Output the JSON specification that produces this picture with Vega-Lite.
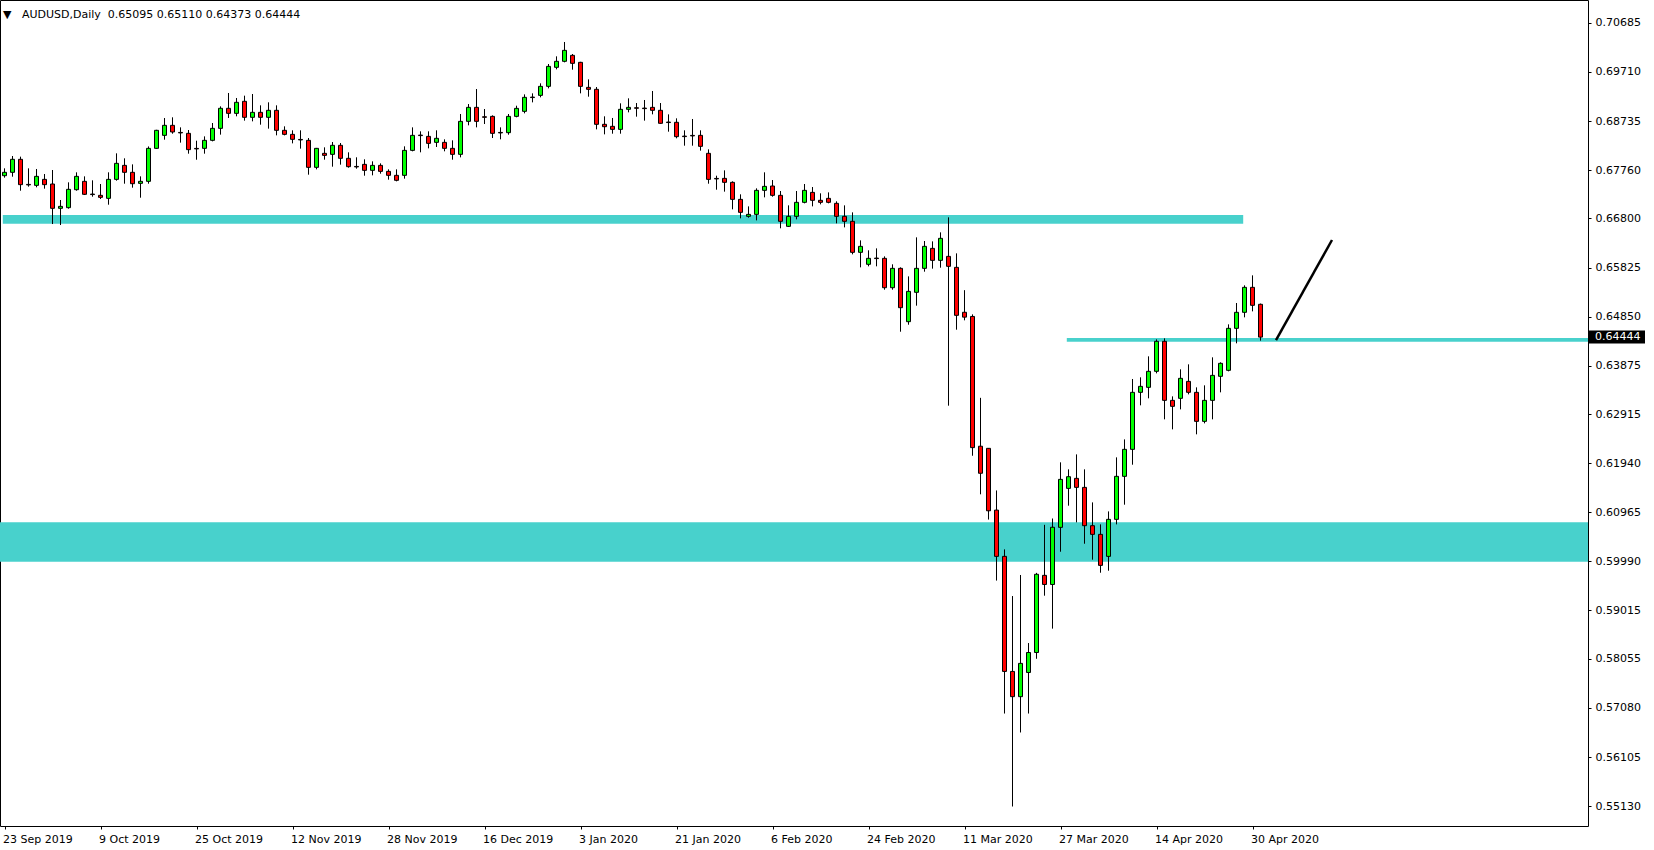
{
"$schema": "https://vega.github.io/schema/vega-lite/v6.json",
"width": 1588,
"height": 826,
"autosize": {"type": "none"},
"padding": {"left": 0, "top": 0, "right": 66, "bottom": 24},
"background": "#ffffff",
"config": {
  "view": {"stroke": "#000000", "strokeWidth": 1},
  "font": "DejaVu Sans",
  "axis": {"domain": false, "grid": false, "labelFont": "DejaVu Sans", "labelFontSize": 11, "labelColor": "#000000", "tickColor": "#000000", "tickSize": 3, "title": null}
},
"title": {"text": "▼\u00a0\u00a0\u00a0AUDUSD,Daily\u00a0\u00a00.65095 0.65110 0.64373 0.64444", "anchor": "start", "frame": "group", "orient": "top", "offset": -16, "dx": 3, "dy": 13, "baseline": "alphabetic", "font": "DejaVu Sans", "fontSize": 11, "fontWeight": "normal", "color": "#000000"},
"resolve": {"axis": {"x": "independent", "y": "independent"}},
"datasets": {
"candles": [
{"d":"2019-09-23","o":0.67649,"h":0.67795,"l":0.6761,"c":0.67716},
{"d":"2019-09-24","o":0.67716,"h":0.6804,"l":0.67629,"c":0.67974},
{"d":"2019-09-25","o":0.67974,"h":0.68027,"l":0.67351,"c":0.67471},
{"d":"2019-09-26","o":0.67476,"h":0.67795,"l":0.67431,"c":0.67466},
{"d":"2019-09-27","o":0.67457,"h":0.67782,"l":0.67418,"c":0.67636},
{"d":"2019-09-30","o":0.67576,"h":0.67682,"l":0.67391,"c":0.67471},
{"d":"2019-10-01","o":0.67484,"h":0.67762,"l":0.66689,"c":0.67001},
{"d":"2019-10-02","o":0.67001,"h":0.67166,"l":0.66669,"c":0.6704},
{"d":"2019-10-03","o":0.67014,"h":0.67517,"l":0.66994,"c":0.67378},
{"d":"2019-10-04","o":0.67371,"h":0.67716,"l":0.67351,"c":0.67636},
{"d":"2019-10-07","o":0.67537,"h":0.67636,"l":0.67265,"c":0.67279},
{"d":"2019-10-08","o":0.67284,"h":0.67557,"l":0.67232,"c":0.67274},
{"d":"2019-10-09","o":0.67259,"h":0.67484,"l":0.67186,"c":0.67219},
{"d":"2019-10-10","o":0.67199,"h":0.67716,"l":0.67073,"c":0.67576},
{"d":"2019-10-11","o":0.67576,"h":0.68093,"l":0.6755,"c":0.67894},
{"d":"2019-10-14","o":0.67854,"h":0.67994,"l":0.6749,"c":0.67716},
{"d":"2019-10-15","o":0.67716,"h":0.67874,"l":0.67411,"c":0.6749},
{"d":"2019-10-16","o":0.67497,"h":0.67636,"l":0.67212,"c":0.67537},
{"d":"2019-10-17","o":0.67537,"h":0.6823,"l":0.6749,"c":0.68192},
{"d":"2019-10-18","o":0.68192,"h":0.6856,"l":0.6818,"c":0.6855},
{"d":"2019-10-21","o":0.6845,"h":0.68794,"l":0.68364,"c":0.68649},
{"d":"2019-10-22","o":0.68649,"h":0.68808,"l":0.68483,"c":0.68517},
{"d":"2019-10-23","o":0.68508,"h":0.68609,"l":0.68305,"c":0.68498},
{"d":"2019-10-24","o":0.6849,"h":0.68556,"l":0.68086,"c":0.68166},
{"d":"2019-10-25","o":0.68191,"h":0.68344,"l":0.67966,"c":0.68181},
{"d":"2019-10-28","o":0.68192,"h":0.6843,"l":0.68086,"c":0.68351},
{"d":"2019-10-29","o":0.68351,"h":0.68695,"l":0.68331,"c":0.68589},
{"d":"2019-10-30","o":0.68589,"h":0.69026,"l":0.68464,"c":0.68987},
{"d":"2019-10-31","o":0.68987,"h":0.69291,"l":0.68795,"c":0.68887},
{"d":"2019-11-01","o":0.68887,"h":0.69192,"l":0.68828,"c":0.69106},
{"d":"2019-11-04","o":0.69126,"h":0.69238,"l":0.68742,"c":0.68808},
{"d":"2019-11-05","o":0.68808,"h":0.69271,"l":0.68728,"c":0.68907},
{"d":"2019-11-06","o":0.68907,"h":0.69046,"l":0.68662,"c":0.68808},
{"d":"2019-11-07","o":0.68808,"h":0.69106,"l":0.68583,"c":0.68947},
{"d":"2019-11-08","o":0.68947,"h":0.69046,"l":0.6845,"c":0.6855},
{"d":"2019-11-11","o":0.6855,"h":0.68629,"l":0.6845,"c":0.6847},
{"d":"2019-11-12","o":0.6847,"h":0.6855,"l":0.68291,"c":0.68371},
{"d":"2019-11-13","o":0.68369,"h":0.6855,"l":0.68186,"c":0.68359},
{"d":"2019-11-14","o":0.68351,"h":0.68397,"l":0.67669,"c":0.67815},
{"d":"2019-11-15","o":0.67815,"h":0.682,"l":0.67775,"c":0.68192},
{"d":"2019-11-18","o":0.68093,"h":0.68212,"l":0.67967,"c":0.68053},
{"d":"2019-11-19","o":0.68073,"h":0.68318,"l":0.67828,"c":0.68252},
{"d":"2019-11-20","o":0.68252,"h":0.68298,"l":0.67868,"c":0.67994},
{"d":"2019-11-21","o":0.67994,"h":0.68113,"l":0.67808,"c":0.67828},
{"d":"2019-11-22","o":0.67833,"h":0.68014,"l":0.67788,"c":0.67823},
{"d":"2019-11-25","o":0.67874,"h":0.67974,"l":0.67649,"c":0.67755},
{"d":"2019-11-26","o":0.67755,"h":0.67934,"l":0.67656,"c":0.67854},
{"d":"2019-11-27","o":0.67854,"h":0.67894,"l":0.67689,"c":0.67735},
{"d":"2019-11-28","o":0.67735,"h":0.67775,"l":0.6757,"c":0.67656},
{"d":"2019-11-29","o":0.67656,"h":0.67775,"l":0.67537,"c":0.67557},
{"d":"2019-12-02","o":0.67656,"h":0.68232,"l":0.6759,"c":0.68152},
{"d":"2019-12-03","o":0.68152,"h":0.68609,"l":0.68133,"c":0.6845},
{"d":"2019-12-04","o":0.68455,"h":0.6853,"l":0.68113,"c":0.68445},
{"d":"2019-12-05","o":0.6843,"h":0.6853,"l":0.68192,"c":0.68291},
{"d":"2019-12-06","o":0.68311,"h":0.6855,"l":0.68219,"c":0.68391},
{"d":"2019-12-09","o":0.68311,"h":0.68371,"l":0.68133,"c":0.68192},
{"d":"2019-12-10","o":0.68192,"h":0.68351,"l":0.67967,"c":0.68073},
{"d":"2019-12-11","o":0.68073,"h":0.68874,"l":0.68013,"c":0.68728},
{"d":"2019-12-12","o":0.68728,"h":0.69072,"l":0.68649,"c":0.69006},
{"d":"2019-12-13","o":0.69006,"h":0.6937,"l":0.68609,"c":0.68728},
{"d":"2019-12-16","o":0.68819,"h":0.68973,"l":0.68675,"c":0.68809},
{"d":"2019-12-17","o":0.68827,"h":0.68847,"l":0.68397,"c":0.6849},
{"d":"2019-12-18","o":0.68508,"h":0.68609,"l":0.68371,"c":0.68498},
{"d":"2019-12-19","o":0.68503,"h":0.68874,"l":0.68463,"c":0.68827},
{"d":"2019-12-20","o":0.68827,"h":0.69039,"l":0.68808,"c":0.68986},
{"d":"2019-12-23","o":0.68927,"h":0.69264,"l":0.68887,"c":0.69205},
{"d":"2019-12-24","o":0.6921,"h":0.69284,"l":0.69105,"c":0.692},
{"d":"2019-12-26","o":0.69244,"h":0.69483,"l":0.69205,"c":0.69423},
{"d":"2019-12-27","o":0.69423,"h":0.69867,"l":0.69383,"c":0.6982},
{"d":"2019-12-30","o":0.69801,"h":0.70019,"l":0.69761,"c":0.6992},
{"d":"2019-12-31","o":0.6992,"h":0.70304,"l":0.699,"c":0.70138},
{"d":"2020-01-02","o":0.70039,"h":0.70065,"l":0.69754,"c":0.6988},
{"d":"2020-01-03","o":0.699,"h":0.6991,"l":0.69284,"c":0.69423},
{"d":"2020-01-06","o":0.69403,"h":0.69562,"l":0.69218,"c":0.69364},
{"d":"2020-01-07","o":0.69364,"h":0.6941,"l":0.68569,"c":0.68669},
{"d":"2020-01-08","o":0.68669,"h":0.68828,"l":0.6847,"c":0.68622},
{"d":"2020-01-09","o":0.68629,"h":0.68795,"l":0.68483,"c":0.68569},
{"d":"2020-01-10","o":0.68569,"h":0.69086,"l":0.68483,"c":0.68967},
{"d":"2020-01-13","o":0.68967,"h":0.69185,"l":0.68907,"c":0.69006},
{"d":"2020-01-14","o":0.68998,"h":0.69092,"l":0.68821,"c":0.68988},
{"d":"2020-01-15","o":0.68991,"h":0.69152,"l":0.68742,"c":0.68981},
{"d":"2020-01-16","o":0.69006,"h":0.69331,"l":0.68867,"c":0.68947},
{"d":"2020-01-17","o":0.68947,"h":0.69092,"l":0.6868,"c":0.68689},
{"d":"2020-01-20","o":0.68714,"h":0.68867,"l":0.68523,"c":0.68704},
{"d":"2020-01-21","o":0.68709,"h":0.68788,"l":0.68391,"c":0.68424},
{"d":"2020-01-22","o":0.68435,"h":0.6855,"l":0.68245,"c":0.68425},
{"d":"2020-01-23","o":0.68449,"h":0.68775,"l":0.68245,"c":0.68439},
{"d":"2020-01-24","o":0.6845,"h":0.6855,"l":0.68146,"c":0.68232},
{"d":"2020-01-27","o":0.68093,"h":0.68172,"l":0.6749,"c":0.67576},
{"d":"2020-01-28","o":0.67595,"h":0.67649,"l":0.67371,"c":0.67585},
{"d":"2020-01-29","o":0.67596,"h":0.67755,"l":0.67332,"c":0.67517},
{"d":"2020-01-30","o":0.67517,"h":0.67537,"l":0.66981,"c":0.67179},
{"d":"2020-01-31","o":0.67179,"h":0.67279,"l":0.66802,"c":0.66921},
{"d":"2020-02-03","o":0.66842,"h":0.6704,"l":0.66815,"c":0.66881},
{"d":"2020-02-04","o":0.66881,"h":0.67398,"l":0.66762,"c":0.67358},
{"d":"2020-02-05","o":0.67358,"h":0.67716,"l":0.67219,"c":0.67437},
{"d":"2020-02-06","o":0.67444,"h":0.67563,"l":0.67232,"c":0.67259},
{"d":"2020-02-07","o":0.67259,"h":0.67345,"l":0.66604,"c":0.66743},
{"d":"2020-02-10","o":0.66643,"h":0.6706,"l":0.6663,"c":0.66842},
{"d":"2020-02-11","o":0.66842,"h":0.67345,"l":0.66782,"c":0.6712},
{"d":"2020-02-12","o":0.6712,"h":0.67484,"l":0.671,"c":0.67358},
{"d":"2020-02-13","o":0.67318,"h":0.67424,"l":0.6704,"c":0.6716},
{"d":"2020-02-14","o":0.6716,"h":0.67299,"l":0.6708,"c":0.6712},
{"d":"2020-02-17","o":0.67199,"h":0.67318,"l":0.671,"c":0.6712},
{"d":"2020-02-18","o":0.671,"h":0.6714,"l":0.66703,"c":0.66842},
{"d":"2020-02-19","o":0.66842,"h":0.6706,"l":0.66623,"c":0.66743},
{"d":"2020-02-20","o":0.66743,"h":0.66921,"l":0.66087,"c":0.66127},
{"d":"2020-02-21","o":0.66127,"h":0.66365,"l":0.65829,"c":0.66246},
{"d":"2020-02-24","o":0.65889,"h":0.66167,"l":0.65849,"c":0.66008},
{"d":"2020-02-25","o":0.66013,"h":0.66206,"l":0.65849,"c":0.66003},
{"d":"2020-02-26","o":0.66008,"h":0.66047,"l":0.65385,"c":0.65425},
{"d":"2020-02-27","o":0.65425,"h":0.65889,"l":0.65385,"c":0.65809},
{"d":"2020-02-28","o":0.65809,"h":0.65829,"l":0.64551,"c":0.65028},
{"d":"2020-03-02","o":0.6475,"h":0.6565,"l":0.6469,"c":0.65352},
{"d":"2020-03-03","o":0.65333,"h":0.66425,"l":0.65068,"c":0.65809},
{"d":"2020-03-04","o":0.65809,"h":0.66352,"l":0.65743,"c":0.66246},
{"d":"2020-03-05","o":0.66206,"h":0.66345,"l":0.65803,"c":0.65968},
{"d":"2020-03-06","o":0.65968,"h":0.66524,"l":0.65822,"c":0.66405},
{"d":"2020-03-09","o":0.66047,"h":0.66822,"l":0.63082,"c":0.65849},
{"d":"2020-03-10","o":0.65829,"h":0.66107,"l":0.64591,"c":0.64876},
{"d":"2020-03-11","o":0.64937,"h":0.65376,"l":0.64777,"c":0.6484},
{"d":"2020-03-12","o":0.64854,"h":0.64895,"l":0.62088,"c":0.62249},
{"d":"2020-03-13","o":0.62277,"h":0.63238,"l":0.61322,"c":0.6174},
{"d":"2020-03-16","o":0.62235,"h":0.6224,"l":0.60821,"c":0.60995},
{"d":"2020-03-17","o":0.61009,"h":0.61399,"l":0.59609,"c":0.6009},
{"d":"2020-03-18","o":0.6009,"h":0.60229,"l":0.56969,"c":0.57805},
{"d":"2020-03-19","o":0.57805,"h":0.59302,"l":0.55123,"c":0.57304},
{"d":"2020-03-20","o":0.57304,"h":0.5972,"l":0.56593,"c":0.57965},
{"d":"2020-03-23","o":0.57784,"h":0.58369,"l":0.56969,"c":0.58181},
{"d":"2020-03-24","o":0.58181,"h":0.59762,"l":0.58056,"c":0.59734},
{"d":"2020-03-25","o":0.59713,"h":0.60716,"l":0.59309,"c":0.59532},
{"d":"2020-03-26","o":0.59532,"h":0.60842,"l":0.58655,"c":0.60668},
{"d":"2020-03-27","o":0.60666,"h":0.61957,"l":0.60182,"c":0.61619},
{"d":"2020-03-30","o":0.6144,"h":0.61818,"l":0.61096,"c":0.61672},
{"d":"2020-03-31","o":0.61639,"h":0.62115,"l":0.60765,"c":0.6146},
{"d":"2020-04-01","o":0.6146,"h":0.61818,"l":0.60341,"c":0.60699},
{"d":"2020-04-02","o":0.60699,"h":0.61162,"l":0.60024,"c":0.60527},
{"d":"2020-04-03","o":0.60527,"h":0.60725,"l":0.59765,"c":0.59911},
{"d":"2020-04-06","o":0.6009,"h":0.60983,"l":0.59805,"c":0.60825},
{"d":"2020-04-07","o":0.60825,"h":0.62056,"l":0.60725,"c":0.61679},
{"d":"2020-04-08","o":0.61679,"h":0.62413,"l":0.61116,"c":0.62215},
{"d":"2020-04-09","o":0.62215,"h":0.63612,"l":0.6191,"c":0.63347},
{"d":"2020-04-10","o":0.63347,"h":0.63645,"l":0.63089,"c":0.63466},
{"d":"2020-04-13","o":0.63446,"h":0.64062,"l":0.63228,"c":0.63764},
{"d":"2020-04-14","o":0.63764,"h":0.64399,"l":0.63724,"c":0.6436},
{"d":"2020-04-15","o":0.6436,"h":0.64419,"l":0.62811,"c":0.63188},
{"d":"2020-04-16","o":0.63188,"h":0.63267,"l":0.62612,"c":0.63069},
{"d":"2020-04-17","o":0.63228,"h":0.63804,"l":0.63009,"c":0.63625},
{"d":"2020-04-20","o":0.63565,"h":0.63903,"l":0.63307,"c":0.63347},
{"d":"2020-04-21","o":0.63347,"h":0.63446,"l":0.62513,"c":0.62771},
{"d":"2020-04-22","o":0.62771,"h":0.63486,"l":0.62731,"c":0.63188},
{"d":"2020-04-23","o":0.63188,"h":0.64042,"l":0.62811,"c":0.63684},
{"d":"2020-04-24","o":0.63665,"h":0.63943,"l":0.63347,"c":0.63923},
{"d":"2020-04-27","o":0.63784,"h":0.64697,"l":0.63764,"c":0.64618},
{"d":"2020-04-28","o":0.64618,"h":0.65121,"l":0.6432,"c":0.64936},
{"d":"2020-04-29","o":0.64936,"h":0.65472,"l":0.64836,"c":0.65432},
{"d":"2020-04-30","o":0.65432,"h":0.6567,"l":0.64955,"c":0.65075},
{"d":"2020-05-01","o":0.65095,"h":0.6511,"l":0.64373,"c":0.64444}
]
},
"layer": [
{
  "data": {"values": [{"from": "2019-09-23", "to": "2020-04-29", "lo": 0.66696, "hi": 0.66868}]},
  "mark": {"type": "rect", "color": "#48d1cc"},
  "encoding": {
    "x": {"field": "from", "type": "ordinal", "bandPosition": 0.35, "axis": null},
    "x2": {"field": "to", "bandPosition": 0.4},
    "y": {"field": "lo", "type": "quantitative", "axis": null},
    "y2": {"field": "hi"}
  }
},
{
  "data": {"values": [{"from": "2020-03-30", "lo": 0.64352, "hi": 0.64426}]},
  "mark": {"type": "rect", "color": "#48d1cc"},
  "encoding": {
    "x": {"field": "from", "type": "ordinal", "bandPosition": 0.35, "axis": null},
    "x2": {"value": "width"},
    "y": {"field": "lo", "type": "quantitative", "axis": null},
    "y2": {"field": "hi"}
  }
},
{
  "data": {"values": [{"lo": 0.59984, "hi": 0.60768}]},
  "mark": {"type": "rect", "color": "#48d1cc"},
  "encoding": {
    "x": {"value": 0},
    "x2": {"value": "width"},
    "y": {"field": "lo", "type": "quantitative", "axis": null},
    "y2": {"field": "hi"}
  }
},
{
  "data": {"name": "candles"},
  "mark": {"type": "rule", "color": "#000000", "strokeWidth": 1, "xOffset": 0.5},
  "encoding": {
    "x": {"field": "d", "type": "ordinal",
      "scale": {"type": "band", "paddingInner": 0, "paddingOuter": 0, "range": [0, 1592],
        "domain": ["2019-09-23","2019-09-24","2019-09-25","2019-09-26","2019-09-27","2019-09-30",
"2019-10-01","2019-10-02","2019-10-03","2019-10-04","2019-10-07","2019-10-08","2019-10-09","2019-10-10","2019-10-11","2019-10-14","2019-10-15","2019-10-16","2019-10-17","2019-10-18","2019-10-21","2019-10-22","2019-10-23","2019-10-24","2019-10-25","2019-10-28","2019-10-29","2019-10-30","2019-10-31",
"2019-11-01","2019-11-04","2019-11-05","2019-11-06","2019-11-07","2019-11-08","2019-11-11","2019-11-12","2019-11-13","2019-11-14","2019-11-15","2019-11-18","2019-11-19","2019-11-20","2019-11-21","2019-11-22","2019-11-25","2019-11-26","2019-11-27","2019-11-28","2019-11-29",
"2019-12-02","2019-12-03","2019-12-04","2019-12-05","2019-12-06","2019-12-09","2019-12-10","2019-12-11","2019-12-12","2019-12-13","2019-12-16","2019-12-17","2019-12-18","2019-12-19","2019-12-20","2019-12-23","2019-12-24","2019-12-26","2019-12-27","2019-12-30","2019-12-31",
"2020-01-02","2020-01-03","2020-01-06","2020-01-07","2020-01-08","2020-01-09","2020-01-10","2020-01-13","2020-01-14","2020-01-15","2020-01-16","2020-01-17","2020-01-20","2020-01-21","2020-01-22","2020-01-23","2020-01-24","2020-01-27","2020-01-28","2020-01-29","2020-01-30","2020-01-31",
"2020-02-03","2020-02-04","2020-02-05","2020-02-06","2020-02-07","2020-02-10","2020-02-11","2020-02-12","2020-02-13","2020-02-14","2020-02-17","2020-02-18","2020-02-19","2020-02-20","2020-02-21","2020-02-24","2020-02-25","2020-02-26","2020-02-27","2020-02-28",
"2020-03-02","2020-03-03","2020-03-04","2020-03-05","2020-03-06","2020-03-09","2020-03-10","2020-03-11","2020-03-12","2020-03-13","2020-03-16","2020-03-17","2020-03-18","2020-03-19","2020-03-20","2020-03-23","2020-03-24","2020-03-25","2020-03-26","2020-03-27","2020-03-30","2020-03-31",
"2020-04-01","2020-04-02","2020-04-03","2020-04-06","2020-04-07","2020-04-08","2020-04-09","2020-04-10","2020-04-13","2020-04-14","2020-04-15","2020-04-16","2020-04-17","2020-04-20","2020-04-21","2020-04-22","2020-04-23","2020-04-24","2020-04-27","2020-04-28","2020-04-29","2020-04-30",
"2020-05-01","2020-05-04","2020-05-05","2020-05-06","2020-05-07","2020-05-08","2020-05-11","2020-05-12","2020-05-13","2020-05-14","2020-05-15","2020-05-18","2020-05-19","2020-05-20","2020-05-21","2020-05-22","2020-05-25","2020-05-26","2020-05-27","2020-05-28","2020-05-29",
"2020-06-01","2020-06-02","2020-06-03","2020-06-04","2020-06-05","2020-06-08","2020-06-09","2020-06-10","2020-06-11","2020-06-12","2020-06-15","2020-06-16","2020-06-17","2020-06-18","2020-06-19","2020-06-22","2020-06-23","2020-06-24","2020-06-25","2020-06-26","2020-06-29"]},
      "axis": {"orient": "bottom", "title": null,
        "values": ["2019-09-23","2019-10-09","2019-10-25","2019-11-12","2019-11-28","2019-12-16","2020-01-03","2020-01-21","2020-02-06","2020-02-24","2020-03-11","2020-03-27","2020-04-14","2020-04-30"],
        "labelExpr": "utcFormat(toDate(datum.value), '%-d %b %Y')",
        "labelAngle": 0, "labelAlign": "left", "labelBaseline": "top", "labelPadding": 4, "labelOffset": -2,
        "tickOffset": 0.5, "bandPosition": 0.5, "tickSize": 3,
        "labelOverlap": false, "labelBound": false, "labelFlush": false}
    },
    "y": {"field": "l", "type": "quantitative",
      "scale": {"domain": [0.547358, 0.711377], "nice": false, "zero": false},
      "axis": {"orient": "right", "title": null,
        "values": [0.70685, 0.6971, 0.68735, 0.6776, 0.668, 0.65825, 0.6485, 0.63875, 0.62915, 0.6194, 0.60965, 0.5999, 0.59015, 0.58055, 0.5708, 0.56105, 0.5513],
        "format": ".5f", "labelAlign": "left", "labelBaseline": "middle", "labelPadding": 4, "tickSize": 3,
        "labelOverlap": false, "labelBound": false, "labelFlush": false}
    },
    "y2": {"field": "h"}
  }
},
{
  "data": {"name": "candles"},
  "mark": {"type": "bar", "width": 4, "stroke": "#000000", "strokeWidth": 1, "xOffset": 0.5},
  "encoding": {
    "x": {"field": "d", "type": "ordinal", "axis": null},
    "y": {"field": "o", "type": "quantitative", "axis": null},
    "y2": {"field": "c"},
    "fill": {"condition": {"test": "datum.c >= datum.o", "value": "#00ff00"}, "value": "#ff0000"}
  }
},
{
  "data": {"values": [{"d": "2020-05-05", "p": 0.64386}, {"d": "2020-05-14", "p": 0.66372}]},
  "mark": {"type": "line", "color": "#000000", "strokeWidth": 2.5},
  "encoding": {
    "x": {"field": "d", "type": "ordinal", "axis": null},
    "y": {"field": "p", "type": "quantitative", "axis": null}
  }
},
{
  "data": {"values": [{"p": 0.64444}]},
  "mark": {"type": "rect", "color": "#000000", "yOffset": -6.5, "y2Offset": 6.5, "x2Offset": 57},
  "encoding": {
    "x": {"value": "width"},
    "x2": {"value": "width"},
    "y": {"field": "p", "type": "quantitative", "axis": null},
    "y2": {"field": "p"}
  }
},
{
  "data": {"values": [{"p": 0.64444}]},
  "mark": {"type": "text", "align": "left", "baseline": "middle", "dx": 7, "color": "#ffffff", "font": "DejaVu Sans", "fontSize": 11},
  "encoding": {
    "x": {"value": "width"},
    "y": {"field": "p", "type": "quantitative", "axis": null},
    "text": {"field": "p", "type": "quantitative", "format": ".5f"}
  }
}
]
}
